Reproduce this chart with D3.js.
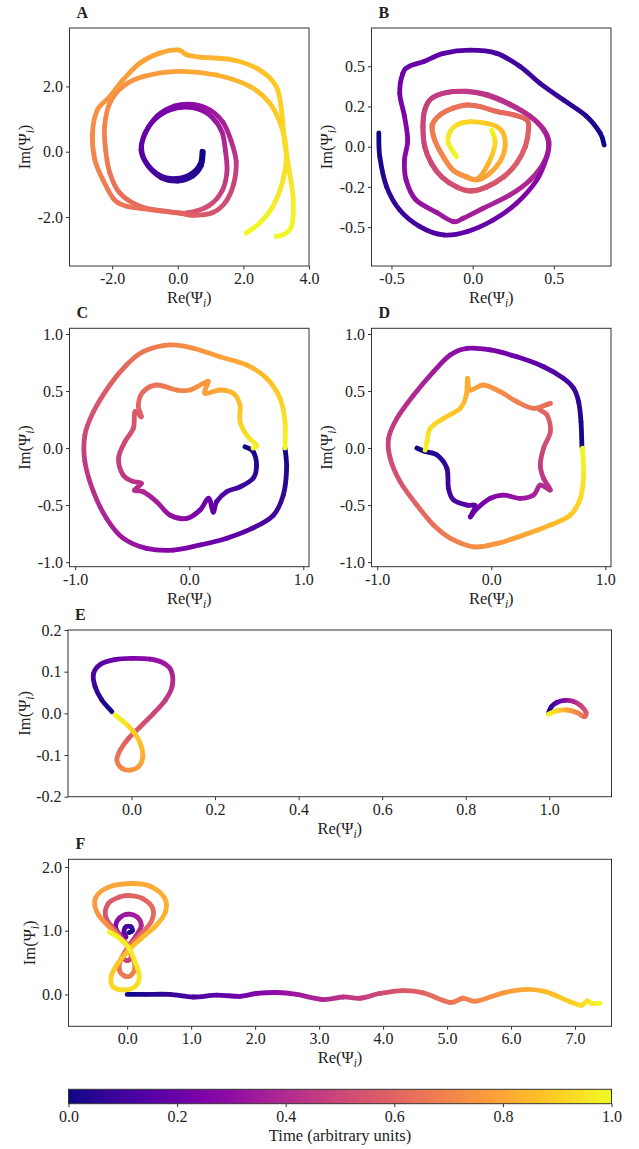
<!DOCTYPE html>
<html>
<head>
<meta charset="utf-8">
<script src="https://cdn.jsdelivr.net/npm/d3@7"></script>
<style>
  body { margin: 0; background: #fff; }
  text { font-family: "Liberation Serif", "DejaVu Serif", serif; fill: #222; }
</style>
</head>
<body>
<div id="chart"></div>
<script>
var curveA1 = [
  [0.74,0.02,0],[0.68,-0.38,0.02],[0.4,-0.68,0.04],[-0.05,-0.82,0.07],[-0.55,-0.72,0.1],
  [-0.98,-0.3,0.13],[-1.1,0.2,0.16],[-0.9,0.75,0.19],[-0.45,1.18,0.22],[0.1,1.36,0.26],
  [0.65,1.3,0.29],[1.08,1.02,0.33],[1.35,0.6,0.36],[1.45,0.05,0.4],[1.5,-0.6,0.44],
  [1.35,-1.2,0.48],[0.95,-1.65,0.52],[0.3,-1.87,0.56],[-0.34,-1.83,0.58],[-1.16,-1.67,0.61],
  [-1.77,-1.26,0.64],[-2.07,-0.65,0.66],[-2.2,0.06,0.68],[-2.23,0.77,0.7],[-2.07,1.49,0.72],
  [-1.67,2.0,0.74],[-1.06,2.3,0.76],[0.01,2.46,0.79],[1.18,2.35,0.82],[2.2,2.0,0.85],
  [2.8,1.49,0.88],[3.16,0.77,0.9],[3.31,-0.04,0.93],[3.21,-0.86,0.95],[2.9,-1.67,0.97],
  [2.5,-2.18,0.985],[2.09,-2.49,1.0]
];
var curveA2 = [
  [0.78,0.0,0],[0.72,-0.42,0.02],[0.45,-0.75,0.04],[0.0,-0.9,0.07],[-0.5,-0.8,0.1],
  [-0.92,-0.42,0.13],[-1.12,0.05,0.16],[-0.98,0.58,0.19],[-0.62,1.1,0.22],[-0.1,1.4,0.26],
  [0.45,1.45,0.29],[0.98,1.28,0.33],[1.38,0.9,0.37],[1.62,0.35,0.41],[1.78,-0.3,0.45],
  [1.7,-1.0,0.49],[1.45,-1.55,0.52],[1.05,-1.87,0.55],[0.46,-1.95,0.58],[0.05,-1.88,0.6],
  [-0.85,-1.77,0.63],[-1.56,-1.67,0.65],[-1.95,-1.45,0.66],[-2.28,-0.86,0.68],[-2.53,-0.24,0.7],
  [-2.6,0.57,0.72],[-2.45,1.28,0.74],[-2.07,1.69,0.75],[-1.67,2.2,0.77],[-1.16,2.71,0.78],
  [-0.55,3.02,0.8],[0.01,3.12,0.81],[0.27,2.97,0.82],[0.67,2.9,0.83],[1.69,2.81,0.85],
  [2.5,2.5,0.87],[3.0,2.0,0.89],[3.16,1.28,0.91],[3.26,0.27,0.93],[3.41,-0.65,0.95],
  [3.52,-1.47,0.97],[3.47,-2.28,0.985],[3.21,-2.54,0.995],[3.0,-2.59,1.0]
];
var curveB1 = [
  [0.81,0.01,0],[0.786,0.083,0.02],[0.70,0.19,0.04],[0.56,0.29,0.06],[0.415,0.394,0.08],
  [0.29,0.50,0.1],[0.148,0.58,0.12],[-0.017,0.60,0.14],[-0.18,0.58,0.16],[-0.30,0.53,0.18],
  [-0.39,0.50,0.2],[-0.43,0.456,0.21],[-0.449,0.33,0.23],[-0.42,0.19,0.25],[-0.40,0.04,0.27],
  [-0.42,-0.083,0.28],[-0.41,-0.207,0.3],[-0.35,-0.33,0.31],[-0.22,-0.41,0.33],[-0.12,-0.466,0.34],
  [-0.058,-0.445,0.35],[0.065,-0.383,0.36],[0.23,-0.30,0.38],[0.354,-0.207,0.39],[0.446,-0.083,0.4],
  [0.467,0.02,0.41],[0.436,0.104,0.42],[0.354,0.187,0.43],[0.23,0.26,0.44],[0.086,0.32,0.45],
  [-0.037,0.342,0.46],[-0.16,0.336,0.47],[-0.253,0.30,0.48],[-0.294,0.228,0.49],[-0.305,0.124,0.5],
  [-0.294,0.0,0.51],[-0.253,-0.103,0.52],[-0.19,-0.187,0.53],[-0.099,-0.249,0.54],[-0.017,-0.274,0.55],
  [0.086,-0.249,0.56],[0.19,-0.187,0.57],[0.27,-0.103,0.58],[0.323,0.0,0.59],[0.343,0.104,0.6],
  [0.333,0.166,0.61],[0.25,0.197,0.62],[0.148,0.218,0.63],[0.045,0.249,0.64],[-0.037,0.259,0.65],
  [-0.12,0.239,0.66],[-0.20,0.197,0.67],[-0.247,0.135,0.68],[-0.233,0.042,0.7],[-0.18,-0.062,0.72],
  [-0.12,-0.145,0.74],[-0.037,-0.187,0.76],[0.025,-0.207,0.77],[0.1,-0.17,0.79],[0.17,-0.09,0.81],
  [0.2,0.0,0.83],[0.19,0.08,0.85],[0.148,0.125,0.87],[0.086,0.145,0.89],[-0.017,0.155,0.91],
  [-0.099,0.135,0.93],[-0.144,0.083,0.95],[-0.15,0.021,0.97],[-0.099,-0.062,1.0]
];
var curveB2 = [
  [-0.578,0.085,0],[-0.572,-0.062,0.02],[-0.53,-0.249,0.05],[-0.449,-0.394,0.08],[-0.325,-0.497,0.11],
  [-0.18,-0.549,0.14],[-0.037,-0.529,0.17],[0.127,-0.456,0.2],[0.27,-0.352,0.24],[0.395,-0.207,0.28],
  [0.457,-0.062,0.32],[0.47,0.03,0.35],[0.436,0.11,0.38],[0.354,0.19,0.4],[0.23,0.265,0.42],
  [0.086,0.325,0.44],[-0.037,0.345,0.45],[-0.16,0.338,0.46],[-0.253,0.3,0.47],[-0.296,0.228,0.48],
  [-0.307,0.124,0.49],[-0.296,0.0,0.5],[-0.255,-0.105,0.51],[-0.19,-0.19,0.52],[-0.099,-0.252,0.53],
  [-0.017,-0.277,0.54],[0.086,-0.252,0.55],[0.19,-0.19,0.56],[0.27,-0.105,0.57],[0.325,0.0,0.58],
  [0.345,0.104,0.59],[0.335,0.166,0.6],[0.25,0.2,0.61],[0.148,0.22,0.62],[0.045,0.25,0.63],
  [-0.037,0.26,0.64],[-0.12,0.24,0.65],[-0.2,0.2,0.66],[-0.25,0.135,0.67],[-0.235,0.042,0.69],
  [-0.18,-0.065,0.71],[-0.12,-0.148,0.73],[-0.037,-0.19,0.75],[0.03,-0.2,0.77],[0.097,-0.104,0.84],
  [0.138,0.02,0.92],[0.117,0.104,1.0]
];
var curveC1 = [
  [0.84,0.0,0],[0.854,-0.18,0.03],[0.825,-0.41,0.07],[0.737,-0.59,0.1],[0.56,-0.7,0.14],
  [0.33,-0.79,0.18],[0.094,-0.85,0.22],[-0.14,-0.895,0.26],[-0.374,-0.88,0.3],[-0.58,-0.79,0.34],
  [-0.725,-0.617,0.38],[-0.84,-0.383,0.42],[-0.915,-0.12,0.46],[-0.915,0.114,0.5],[-0.84,0.318,0.54],
  [-0.696,0.553,0.58],[-0.55,0.728,0.62],[-0.403,0.845,0.66],[-0.169,0.904,0.7],[0.035,0.875,0.74],
  [0.27,0.8,0.78],[0.504,0.728,0.82],[0.68,0.61,0.86],[0.796,0.436,0.9],[0.84,0.23,0.95],[0.84,0.0,1.0]
];
var curveC2 = [
  [0.489,0.011,0],[0.56,-0.03,0.02],[0.59,-0.15,0.04],[0.56,-0.266,0.07],[0.445,-0.34,0.1],
  [0.328,-0.383,0.13],[0.24,-0.47,0.16],[0.21,-0.56,0.18],[0.17,-0.44,0.2],[0.094,-0.544,0.23],
  [-0.023,-0.617,0.27],[-0.169,-0.588,0.31],[-0.286,-0.47,0.35],[-0.403,-0.383,0.39],[-0.48,-0.37,0.41],
  [-0.42,-0.31,0.42],[-0.5,-0.29,0.44],[-0.58,-0.237,0.45],[-0.62,-0.09,0.48],[-0.564,0.055,0.51],
  [-0.49,0.173,0.54],[-0.476,0.318,0.56],[-0.42,0.275,0.58],[-0.447,0.377,0.6],[-0.403,0.494,0.62],
  [-0.286,0.553,0.65],[-0.11,0.509,0.69],[0.006,0.509,0.72],[0.123,0.567,0.75],[0.167,0.582,0.76],
  [0.138,0.48,0.78],[0.27,0.509,0.81],[0.386,0.48,0.84],[0.445,0.377,0.87],[0.445,0.23,0.9],
  [0.504,0.114,0.94],[0.59,0.026,0.97],[0.56,0.0,1.0]
];
var curveD1 = [
  [0.795,0.011,0],[0.787,0.23,0.03],[0.766,0.406,0.06],[0.722,0.524,0.09],[0.634,0.611,0.12],
  [0.459,0.713,0.16],[0.225,0.8,0.2],[-0.009,0.86,0.24],[-0.213,0.874,0.28],[-0.36,0.816,0.31],
  [-0.506,0.67,0.35],[-0.68,0.465,0.4],[-0.827,0.26,0.44],[-0.9,0.085,0.48],[-0.886,-0.09,0.51],
  [-0.798,-0.296,0.55],[-0.652,-0.5,0.6],[-0.506,-0.675,0.64],[-0.36,-0.79,0.68],[-0.155,-0.866,0.72],
  [0.05,-0.836,0.76],[0.284,-0.763,0.8],[0.518,-0.675,0.84],[0.693,-0.588,0.88],[0.781,-0.441,0.92],
  [0.81,-0.237,0.96],[0.8,0.0,1.0]
];
var curveD2 = [
  [-0.652,0.0,0],[-0.58,-0.03,0.02],[-0.476,-0.06,0.04],[-0.389,-0.178,0.07],[-0.375,-0.354,0.1],
  [-0.33,-0.456,0.12],[-0.213,-0.5,0.15],[-0.14,-0.506,0.17],[-0.184,-0.603,0.19],[-0.125,-0.53,0.21],
  [-0.009,-0.441,0.25],[0.108,-0.412,0.29],[0.254,-0.441,0.33],[0.371,-0.412,0.37],[0.43,-0.325,0.4],
  [0.518,-0.368,0.42],[0.459,-0.266,0.44],[0.43,-0.15,0.47],[0.459,0.0,0.51],[0.518,0.143,0.55],
  [0.489,0.29,0.59],[0.415,0.347,0.61],[0.518,0.392,0.63],[0.371,0.348,0.65],[0.225,0.406,0.69],
  [0.079,0.494,0.73],[-0.068,0.553,0.76],[-0.184,0.509,0.79],[-0.208,0.611,0.81],[-0.219,0.465,0.83],
  [-0.272,0.348,0.86],[-0.418,0.26,0.9],[-0.535,0.173,0.93],[-0.564,0.055,0.96],[-0.58,-0.018,1.0]
];
var curveE1 = [
  [-0.047,0.004,0],[-0.071,0.032,0.04],[-0.087,0.064,0.08],[-0.091,0.095,0.12],[-0.074,0.118,0.16],
  [-0.04,0.129,0.2],[0.0,0.132,0.25],[0.045,0.13,0.29],[0.078,0.12,0.33],[0.096,0.1,0.37],
  [0.097,0.064,0.42],[0.081,0.032,0.46],[0.053,0.0,0.5],[0.021,-0.032,0.54],[-0.007,-0.06,0.58],
  [-0.027,-0.088,0.62],[-0.035,-0.112,0.66],[-0.023,-0.132,0.7],[-0.003,-0.136,0.74],[0.017,-0.128,0.78],
  [0.027,-0.104,0.82],[0.021,-0.072,0.86],[0.005,-0.044,0.9],[-0.019,-0.02,0.95],[-0.039,-0.004,1.0]
];
var curveE2 = [
  [0.998,0.0,0],[1.005,0.016,0.08],[1.018,0.026,0.16],[1.037,0.031,0.28],[1.057,0.029,0.38],
  [1.076,0.018,0.48],[1.088,0.002,0.56],[1.084,-0.008,0.62],[1.066,0.002,0.7],[1.042,0.008,0.8],
  [1.018,0.006,0.9],[0.998,-0.002,1.0]
];
var curveF1 = [
  [0.0,0.0,0],[0.3,0.0,0.03],[0.67,0.0,0.07],[1.03,-0.04,0.12],[1.40,-0.01,0.17],[1.76,-0.03,0.22],
  [2.02,0.015,0.26],[2.34,0.03,0.3],[2.65,0.0,0.34],[3.06,-0.08,0.39],[3.38,-0.04,0.43],[3.64,-0.06,0.47],
  [3.95,0.015,0.51],[4.31,0.06,0.56],[4.63,0.025,0.6],[5.04,-0.125,0.65],[5.25,-0.06,0.68],
  [5.46,-0.105,0.71],[5.88,0.025,0.76],[6.24,0.08,0.81],[6.55,0.04,0.85],[6.92,-0.115,0.9],
  [7.10,-0.17,0.93],[7.19,-0.1,0.95],[7.26,-0.14,0.97],[7.39,-0.14,1.0]
];
var curveF2 = [
  [0.03,0.97,0.0],[0.08,1.0,0.04],[0.06,1.06,0.08],[-0.02,1.06,0.12],[-0.05,0.98,0.16],[-0.02,0.9,0.2],
  [-0.1,0.92,0.24],[-0.18,1.06,0.28],[-0.12,1.2,0.31],[0.02,1.26,0.34],[0.16,1.21,0.37],[0.22,1.08,0.39],
  [0.14,0.92,0.41],[0.04,0.78,0.43],[-0.04,0.65,0.45],[-0.06,0.57,0.47],[0.0,0.53,0.48],[0.06,0.57,0.49],
  [0.05,0.67,0.5],[0.0,0.78,0.51],[-0.15,0.96,0.53],[-0.33,1.2,0.55],[-0.3,1.42,0.57],[-0.12,1.53,0.58],
  [0.05,1.55,0.59],[0.25,1.5,0.6],[0.4,1.35,0.61],[0.38,1.15,0.62],[0.22,0.95,0.63],[0.04,0.76,0.64],
  [-0.1,0.55,0.65],[-0.12,0.38,0.66],[-0.04,0.29,0.67],[0.06,0.3,0.68],[0.12,0.42,0.69],[0.08,0.6,0.7],
  [0.0,0.76,0.71],[-0.2,0.98,0.73],[-0.45,1.25,0.75],[-0.5,1.5,0.77],[-0.3,1.68,0.79],[0.05,1.74,0.8],
  [0.35,1.7,0.81],[0.58,1.52,0.82],[0.6,1.3,0.83],[0.45,1.08,0.84],[0.22,0.88,0.85],[0.05,0.72,0.86],
  [-0.15,0.48,0.88],[-0.25,0.28,0.9],[-0.22,0.12,0.92],[-0.05,0.07,0.93],[0.12,0.12,0.94],[0.19,0.28,0.95],
  [0.12,0.52,0.96],[0.02,0.74,0.97],[-0.12,0.88,0.98],[-0.28,0.98,1.0]
];

// tick values and labels
var ticksAx = [-2, 0, 2, 4], ticksAy = [-2, 0, 2];
var ticksBx = [-0.5, 0, 0.5], ticksBy = [-0.5, -0.25, 0, 0.25, 0.5];
var labelsBy = ["-0.5", "-0.2", "0.0", "0.2", "0.5"];
var ticksCDx = [-1, 0, 1], ticksCDy = [-1, -0.5, 0, 0.5, 1];
var ticksEx = [0, 0.2, 0.4, 0.6, 0.8, 1.0], ticksEy = [-0.2, -0.1, 0, 0.1, 0.2];
var ticksFx = [0, 1, 2, 3, 4, 5, 6, 7], ticksFy = [0, 1, 2];
var ticksCbar = [0, 0.2, 0.4, 0.6, 0.8, 1.0];

var svg = d3.select("#chart").append("svg").attr("width", 639).attr("height", 1149);
var defs = svg.append("defs");
var gradCount = 0;

var fmt1 = function (d) { return d.toFixed(1); };

var panels = [
  { name: "A", left: 69.5, right: 309, top: 28, bottom: 266, xd: [-3.3, 4.0], yd: [-3.5, 3.79],
    xt: ticksAx, yt: ticksAy, curves: [curveA1, curveA2], ylabX: 25 },
  { name: "B", left: 371.5, right: 611, top: 28, bottom: 266, xd: [-0.623, 0.852], yd: [-0.742, 0.738],
    xt: ticksBx, yt: ticksBy, ytl: labelsBy, curves: [curveB1, curveB2], ylabX: 327 },
  { name: "C", left: 69.5, right: 309, top: 328.3, bottom: 566.7, xd: [-1.05, 1.05], yd: [-1.04, 1.05],
    xt: ticksCDx, yt: ticksCDy, curves: [curveC1, curveC2], ylabX: 25 },
  { name: "D", left: 371.5, right: 611, top: 328.3, bottom: 566.7, xd: [-1.05, 1.05], yd: [-1.04, 1.05],
    xt: ticksCDx, yt: ticksCDy, curves: [curveD1, curveD2], ylabX: 327 },
  { name: "E", left: 68, right: 611.5, top: 630, bottom: 796.7, xd: [-0.152, 1.149], yd: [-0.2, 0.2],
    xt: ticksEx, yt: ticksEy, curves: [curveE1, curveE2], ylabX: 25 },
  { name: "F", left: 68.5, right: 611.5, top: 859.3, bottom: 1026.3, xd: [-0.917, 7.57], yd: [-0.5, 2.12],
    xt: ticksFx, yt: ticksFy, curves: [curveF1, curveF2], ylabX: 30 }
];

// smooth trail, each piece shaded from its start time to its end time
function drawTrail(g, pts, x, y) {
  var P = pts.map(function (d) { return [x(d[0]), y(d[1]), d[2]]; });
  var n = P.length;
  for (var i = 0; i < n - 1; i++) {
    var p0 = P[Math.max(i - 1, 0)], p1 = P[i], p2 = P[i + 1], p3 = P[Math.min(i + 2, n - 1)];
    var c1 = [p1[0] + (p2[0] - p0[0]) / 6, p1[1] + (p2[1] - p0[1]) / 6];
    var c2 = [p2[0] - (p3[0] - p1[0]) / 6, p2[1] - (p3[1] - p1[1]) / 6];
    var id = "seg" + gradCount++;
    var grad = defs.append("linearGradient")
      .attr("id", id)
      .attr("gradientUnits", "userSpaceOnUse")
      .attr("x1", p1[0]).attr("y1", p1[1])
      .attr("x2", p2[0] + 0.01).attr("y2", p2[1]);
    grad.append("stop").attr("offset", 0).attr("stop-color", d3.interpolatePlasma(p1[2]));
    grad.append("stop").attr("offset", 1).attr("stop-color", d3.interpolatePlasma(p2[2]));
    g.append("path")
      .attr("d", "M" + p1[0] + "," + p1[1] + "C" + c1[0] + "," + c1[1] + " " + c2[0] + "," + c2[1] + " " + p2[0] + "," + p2[1])
      .attr("fill", "none")
      .attr("stroke", "url(#" + id + ")")
      .attr("stroke-width", 4.8)
      .attr("stroke-linecap", "round");
  }
}

function psiLabel(t, prefix) {
  t.append("tspan").text(prefix + "(\u03A8");
  t.append("tspan").attr("font-style", "italic").attr("font-size", "11.5px").attr("dy", 4).text("i");
  t.append("tspan").attr("dy", -4).text(")");
}

function styleAxis(a) {
  a.select(".domain").remove();
  a.attr("font-family", null).attr("font-size", null);
  a.selectAll("text").style("font-size", "16px");
  a.selectAll(".tick line").attr("stroke", "#333");
}

panels.forEach(function (p) {
  var w = p.right - p.left, h = p.bottom - p.top;
  var x = d3.scaleLinear().domain(p.xd).range([0, w]);
  var y = d3.scaleLinear().domain(p.yd).range([h, 0]);
  var g = svg.append("g").attr("transform", "translate(" + p.left + "," + p.top + ")");

  p.curves.forEach(function (c) { drawTrail(g, c, x, y); });

  g.append("g")
    .attr("transform", "translate(0," + h + ")")
    .call(d3.axisBottom(x).tickValues(p.xt).tickFormat(fmt1).tickSize(3.5).tickPadding(3))
    .call(styleAxis);

  g.append("g")
    .call(d3.axisLeft(y).tickValues(p.yt).tickSize(3.5).tickPadding(3)
      .tickFormat(function (d, i) { return p.ytl ? p.ytl[i] : fmt1(d); }))
    .call(styleAxis);

  g.append("rect")
    .attr("width", w).attr("height", h)
    .attr("fill", "none").attr("stroke", "#333").attr("stroke-width", 1);

  svg.append("text")
    .attr("x", p.left + 7).attr("y", p.top - 10)
    .style("font-size", "16px").style("font-weight", "bold")
    .text(p.name);

  var xl = svg.append("text")
    .attr("x", p.left + w / 2).attr("y", p.bottom + 37)
    .attr("text-anchor", "middle").style("font-size", "16.5px");
  psiLabel(xl, "Re");

  var yl = svg.append("text")
    .attr("transform", "translate(" + (p.ylabX + 5) + "," + (p.top + h / 2) + ") rotate(-90)")
    .attr("text-anchor", "middle").style("font-size", "16.5px");
  psiLabel(yl, "Im");
});

// colour bar
var cb = { left: 68.5, right: 611.5, top: 1089.3, bottom: 1103.7 };
var cbScale = d3.scaleLinear().domain([0, 1]).range([0, cb.right - cb.left]);
var cbGrad = defs.append("linearGradient").attr("id", "cbar");
d3.range(0, 1.0001, 0.05).forEach(function (v) {
  cbGrad.append("stop").attr("offset", v).attr("stop-color", d3.interpolatePlasma(v));
});
var cg = svg.append("g").attr("transform", "translate(" + cb.left + "," + cb.top + ")");
cg.append("rect")
  .attr("width", cb.right - cb.left).attr("height", cb.bottom - cb.top)
  .attr("fill", "url(#cbar)").attr("stroke", "#333").attr("stroke-width", 1);
cg.append("g")
  .attr("transform", "translate(0," + (cb.bottom - cb.top) + ")")
  .call(d3.axisBottom(cbScale).tickValues(ticksCbar).tickFormat(fmt1).tickSize(3.5).tickPadding(3))
  .call(styleAxis);
svg.append("text")
  .attr("x", (cb.left + cb.right) / 2).attr("y", 1141)
  .attr("text-anchor", "middle").style("font-size", "16.5px")
  .text("Time (arbitrary units)");
</script>
</body>
</html>
